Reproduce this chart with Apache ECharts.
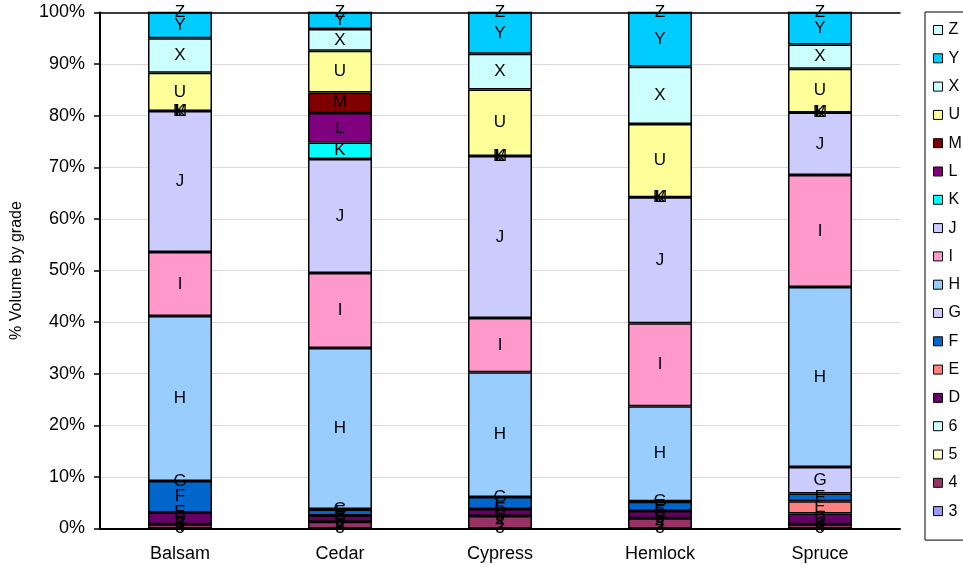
<!DOCTYPE html>
<html><head><meta charset="utf-8">
<script src="https://cdn.jsdelivr.net/npm/echarts@6/dist/echarts.min.js"></script>
<style>html,body{margin:0;padding:0;background:#fff}#chart{width:963px;height:567px}</style>
</head><body><div id="chart"></div>
<script>
// Species along the x axis
const species = ['Balsam', 'Cedar', 'Cypress', 'Hemlock', 'Spruce'];
// Grades, stacked bottom to top
const gradeNames = ['3', '4', '5', '6', 'D', 'E', 'F', 'G', 'H', 'I', 'J', 'K', 'L', 'M', 'U', 'X', 'Y', 'Z'];
// Percent of volume by grade, one value per species
const grade3 = [0, 0, 0, 0, 0];
const grade4 = [0.8, 1.3, 2.4, 2.0, 0.8];
const grade5 = [0, 0, 0, 0, 0];
const grade6 = [0, 0, 0, 0, 0];
const gradeD = [2.3, 1.2, 1.4, 1.4, 2.1];
const gradeE = [0, 0, 0, 0, 2.4];
const gradeF = [6.1, 1.2, 2.3, 1.8, 1.5];
const gradeG = [0, 0.1, 0, 0.1, 5.1];
const gradeH = [32.0, 31.2, 24.2, 18.4, 34.9];
const gradeI = [12.4, 14.5, 10.5, 16.1, 21.7];
const gradeJ = [27.3, 22.1, 31.4, 24.4, 12.1];
const gradeK = [0, 3.2, 0, 0, 0];
const gradeL = [0, 5.7, 0, 0, 0];
const gradeM = [0, 4.0, 0, 0, 0];
const gradeU = [7.4, 8.1, 12.9, 14.2, 8.5];
const gradeX = [6.7, 4.2, 6.9, 11.1, 4.7];
const gradeY = [5.0, 3.2, 8.0, 10.5, 6.2];
const gradeZ = [0, 0, 0, 0, 0];
// Y axis tick labels
const yTicks = ['0%', '10%', '20%', '30%', '40%', '50%', '60%', '70%', '80%', '90%', '100%'];

const gradeValues = [grade3, grade4, grade5, grade6, gradeD, gradeE, gradeF, gradeG, gradeH,
  gradeI, gradeJ, gradeK, gradeL, gradeM, gradeU, gradeX, gradeY, gradeZ];
const gradeColors = ['#9999FF', '#993366', '#FFFFCC', '#CCFFFF', '#660066', '#FF8080', '#0066CC',
  '#CCCCFF', '#99CCFF', '#FF99CC', '#CCCCFF', '#00FFFF', '#800080', '#800000', '#FFFF99',
  '#CCFFFF', '#00CCFF', '#CCFFFF'];

const FONT = 'Liberation Sans, Arial, sans-serif';

const series = gradeNames.map((name, i) => ({
  name: name,
  type: 'bar',
  stack: 'total',
  barWidth: '40%',
  data: gradeValues[i],
  itemStyle: { color: gradeColors[i], borderColor: '#000', borderWidth: 1.5 },
  label: {
    show: true,
    position: 'inside',
    formatter: name,
    color: '#000',
    fontFamily: FONT,
    fontSize: 17
  },
  emphasis: { disabled: true }
}));

const chart = echarts.init(document.getElementById('chart'), null, { renderer: 'canvas' });
chart.setOption({
  animation: false,
  backgroundColor: '#fff',
  grid: {
    left: 100, right: 63, top: 12.5, bottom: 38.5,
    containLabel: false, outerBoundsMode: 'none'
  },
  xAxis: [{
    type: 'category',
    data: species,
    axisLine: { lineStyle: { color: '#000', width: 2 } },
    axisTick: { show: false },
    axisLabel: { color: '#000', fontFamily: FONT, fontSize: 18, margin: 17 }
  }, {
    type: 'category',
    position: 'top',
    data: species,
    axisLine: { lineStyle: { color: '#000', width: 1.5 } },
    axisTick: { show: false },
    axisLabel: { show: false }
  }],
  yAxis: {
    type: 'value',
    min: 0,
    max: 100,
    interval: 10,
    name: '% Volume by grade',
    nameLocation: 'middle',
    nameGap: 75,
    nameTextStyle: { color: '#000', fontFamily: FONT, fontSize: 16 },
    axisLine: { show: true, lineStyle: { color: '#000', width: 2 } },
    axisTick: { show: true, length: 6, lineStyle: { color: '#000', width: 1.5 } },
    axisLabel: {
      color: '#000', fontFamily: FONT, fontSize: 18, margin: 15,
      formatter: v => yTicks[Math.round(v / 10)]
    },
    splitLine: { lineStyle: { color: '#d9d9d9', width: 1 } }
  },
  legend: {
    orient: 'vertical',
    left: 925,
    top: 12,
    data: gradeNames.slice().reverse(),
    itemWidth: 9,
    itemHeight: 9,
    itemGap: 12.3,
    padding: [10, 20, 21, 8],
    borderColor: '#000',
    borderWidth: 1,
    icon: 'rect',
    selectedMode: false,
    itemStyle: { borderColor: '#000', borderWidth: 1 },
    textStyle: { color: '#000', fontFamily: FONT, fontSize: 16, lineHeight: 16, padding: [0, 0, 0, 1] }
  },
  series: series
});
</script>
</body></html>
